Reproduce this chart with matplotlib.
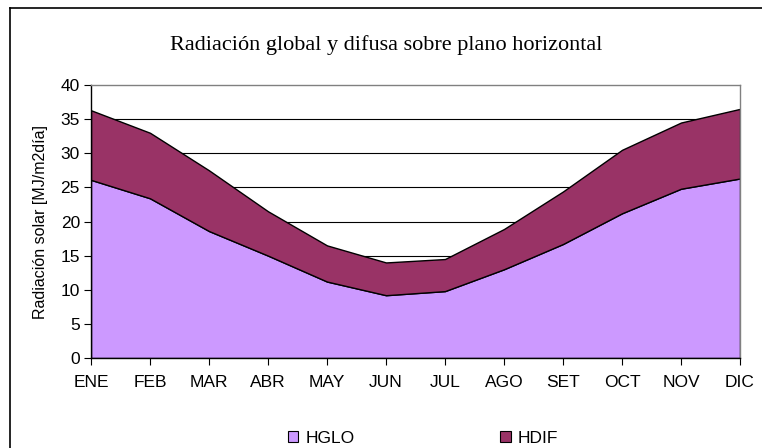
import matplotlib
matplotlib.use("Agg")
import matplotlib.pyplot as plt
from matplotlib.patches import Patch
from matplotlib.lines import Line2D

months = ["ENE", "FEB", "MAR", "ABR", "MAY", "JUN", "JUL", "AGO", "SET", "OCT", "NOV", "DIC"]
hglo = [26.1, 23.4, 18.6, 15.0, 11.2, 9.2, 9.8, 13.0, 16.7, 21.2, 24.8, 26.3]
hdif = [10.2, 9.6, 8.9, 6.5, 5.3, 4.8, 4.7, 5.9, 7.7, 9.3, 9.7, 10.2]
yticks = [0, 5, 10, 15, 20, 25, 30, 35, 40]

fig = plt.figure(figsize=(7.62, 4.48), dpi=100)
W, H = 762, 448
ax = fig.add_axes([91 / W, 1 - 358 / H, (740 - 91) / W, (358 - 85) / H])

x = list(range(len(months)))
for yv in yticks[1:-1]:
    ax.axhline(yv, color="black", lw=0.8, zorder=1)
ax.stackplot(x, hglo, hdif, colors=["#CC99FF", "#993366"],
             edgecolor="black", linewidth=1.0, zorder=2, labels=["HGLO", "HDIF"])

fs = 12.5
ax.set_xlim(0, 11)
ax.set_ylim(0, 40)
ax.set_xticks(x)
ax.set_xticklabels(months, fontsize=fs, family="Liberation Sans")
ax.set_yticks(yticks)
ax.set_yticklabels([str(v) for v in yticks], fontsize=fs, family="Liberation Sans")
ax.tick_params(direction="out", length=5, width=0.8, color="black", pad=7)
ax.tick_params(axis="y", pad=3)
for s in ["top", "right"]:
    ax.spines[s].set_color("#808080")
    ax.spines[s].set_linewidth(1.0)
for s in ["left", "bottom"]:
    ax.spines[s].set_color("black")
    ax.spines[s].set_linewidth(1.0)
ax.spines["top"].set_zorder(3)

ax.set_ylabel("Radiación solar [MJ/m2día]", fontsize=11.5, family="Liberation Sans", labelpad=9)

fig.text(386 / W, 1 - 45 / H, "Radiación global y difusa sobre plano horizontal",
         ha="center", va="center", fontsize=16, family="Liberation Serif")

handles = [Patch(facecolor="#CC99FF", edgecolor="black", lw=0.8),
           Patch(facecolor="#993366", edgecolor="black", lw=0.8)]
fig.legend(handles, ["HGLO", "HDIF"], loc="center", bbox_to_anchor=(423 / W, 1 - 438 / H),
           ncol=2, frameon=False, prop={"family": "Liberation Sans", "size": fs},
           handlelength=0.6, handleheight=0.6, handletextpad=0.4, columnspacing=8.4)

# chart-area border (only left and top edges fall inside the image)
fig.add_artist(Line2D([9.5 / W, 9.5 / W], [0, 1 - 8.5 / H], transform=fig.transFigure,
                      color="black", lw=1.2))
fig.add_artist(Line2D([9.5 / W, 1], [1 - 8.5 / H, 1 - 8.5 / H], transform=fig.transFigure,
                      color="black", lw=1.2))

fig.savefig("out.png", dpi=100, facecolor="white")
